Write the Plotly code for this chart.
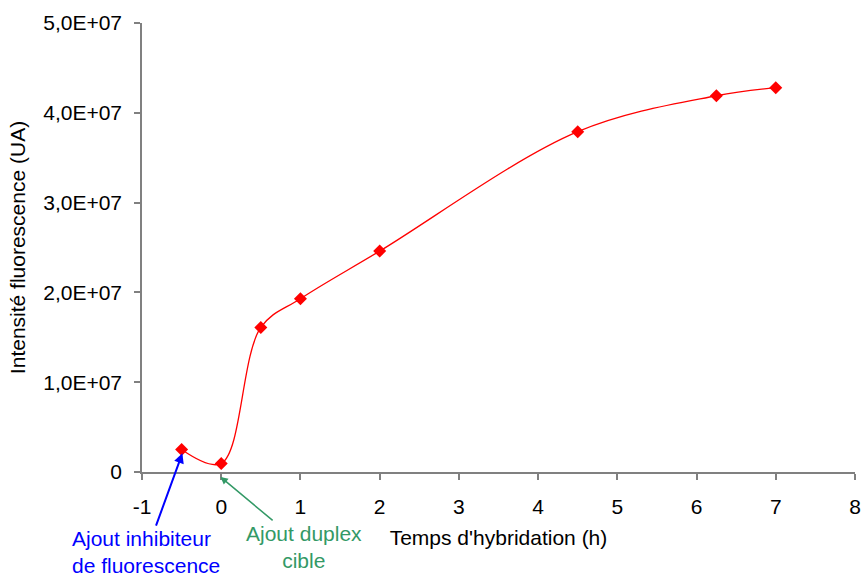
import plotly.graph_objects as go

time_h = [-0.5, 0, 0.5, 1, 2, 4.5, 6.25, 7]
intensity = [2.5e6, 0.95e6, 1.61e7, 1.93e7, 2.46e7, 3.79e7, 4.19e7, 4.28e7]

y_tickvals = [0, 1e7, 2e7, 3e7, 4e7, 5e7]
y_ticktext = ["0", "1,0E+07", "2,0E+07", "3,0E+07", "4,0E+07", "5,0E+07"]
x_tickvals = [-1, 0, 1, 2, 3, 4, 5, 6, 7, 8]
x_ticktext = ["-1", "0", "1", "2", "3", "4", "5", "6", "7", "8"]

font_family = "Liberation Sans, Arial, sans-serif"

fig = go.Figure()
fig.add_trace(go.Scatter(
    x=time_h, y=intensity, mode="lines+markers",
    line=dict(color="#FF0000", width=1.3, shape="spline", smoothing=1),
    marker=dict(symbol="diamond", size=10, color="#FF0000"),
    cliponaxis=False, showlegend=False,
))

fig.update_layout(
    width=864, height=577,
    margin=dict(l=142, r=9, t=23, b=105),
    paper_bgcolor="white", plot_bgcolor="white",
    font=dict(family=font_family, size=21, color="black"),
    xaxis=dict(
        range=[-1, 8], tickvals=x_tickvals, ticktext=x_ticktext, ticks="outside", ticklen=6,
        tickcolor="#808080", tickwidth=1.5, showline=True, linecolor="#808080",
        linewidth=1.5, showgrid=False, zeroline=False, automargin=False,
        tickfont=dict(size=21), ticklabelstandoff=9, ticklabeloverflow="allow",
        title=dict(text="Temps d'hybridation (h)", standoff=13, font=dict(size=21)),
    ),
    yaxis=dict(
        range=[0, 5e7], tickvals=y_tickvals, ticktext=y_ticktext, ticks="outside",
        ticklen=6, tickcolor="#808080", tickwidth=1.5, showline=True,
        linecolor="#808080", linewidth=1.5, showgrid=False, zeroline=False,
        automargin=False, tickfont=dict(size=21), ticklabelstandoff=8,
        title=dict(text="Intensité fluorescence (UA)", standoff=12, font=dict(size=21)),
    ),
    annotations=[
        dict(x=-0.49, y=2.1e6, xref="x", yref="y", ax=-36, ay=99,
             text="Ajout inhibiteur<br>de fluorescence", showarrow=True,
             arrowhead=2, arrowsize=1, arrowwidth=2, arrowcolor="#0000FF",
             font=dict(color="#0000FF", size=21), align="left"),
        dict(x=-0.01, y=-0.011, xref="x", yref="paper", ax=84, ay=70,
             text="Ajout duplex<br>cible", showarrow=True,
             arrowhead=2, arrowsize=1, arrowwidth=1.5, arrowcolor="#339966",
             font=dict(color="#339966", size=21), align="center"),
    ],
)

fig.write_html("out.html", config={"displayModeBar": False},
               post_script="document.body.style.margin='0';document.body.style.overflow='hidden';")
